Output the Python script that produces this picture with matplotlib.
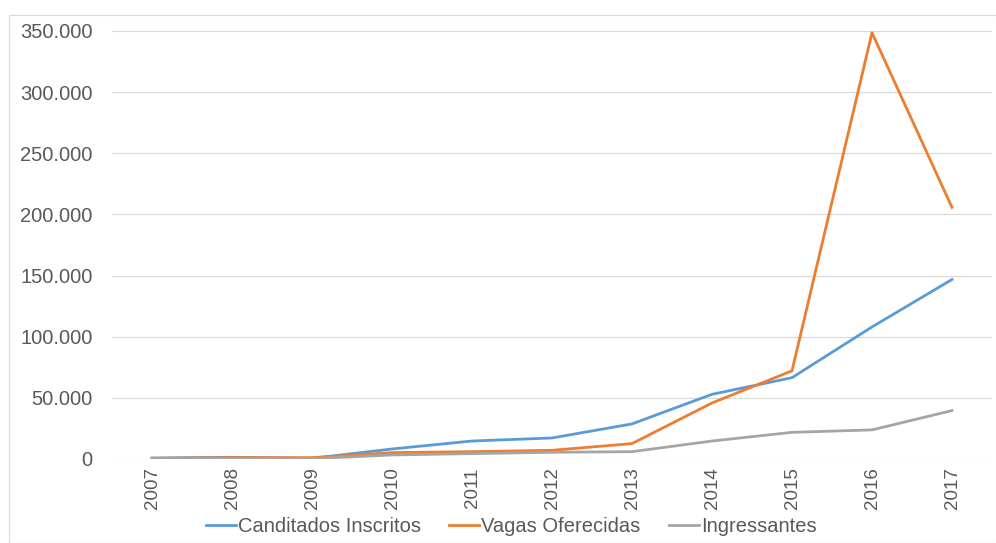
import matplotlib
matplotlib.use('Agg')
import matplotlib.pyplot as plt
from matplotlib.ticker import FuncFormatter
from matplotlib.patches import Rectangle

plt.rcParams['font.family'] = ['Liberation Sans', 'DejaVu Sans']

years = [2007, 2008, 2009, 2010, 2011, 2012, 2013, 2014, 2015, 2016, 2017]
inscritos = [800, 1400, 550, 8200, 14700, 17200, 28700, 52900, 66500, 108000, 146800]
vagas = [550, 1100, 1100, 5200, 6000, 7100, 12600, 45800, 72100, 348600, 205700]
ingressantes = [300, 550, 300, 3300, 4400, 5500, 6000, 14700, 21800, 23800, 39600]

W, H = 996, 543
fig = plt.figure(figsize=(W / 100, H / 100), dpi=100)
ax = fig.add_axes([112 / W, 1 - 459 / H, (992 - 112) / W, (459 - 31) / H])

ax.plot(years, inscritos, color='#5B9BD5', lw=2, label='Canditados Inscritos')
ax.plot(years, vagas, color='#ED7D31', lw=2, label='Vagas Oferecidas')
ax.plot(years, ingressantes, color='#A5A5A5', lw=2, label='Ingressantes')

ax.set_xlim(2006.5, 2017.5)
ax.set_ylim(0, 350000)
ax.set_yticks(range(0, 350001, 50000))
ax.set_xticks(years)
ax.set_xticklabels([str(y) for y in years], rotation=90)
ax.yaxis.set_major_formatter(FuncFormatter(lambda v, p: f'{int(v):,}'.replace(',', '.')))

ax.grid(axis='y', color='#D9D9D9', lw=0.8)
ax.set_axisbelow(True)
for s in ax.spines.values():
    s.set_visible(False)
ax.tick_params(axis='both', length=0, colors='#595959')
ax.tick_params(axis='y', pad=14, labelsize=14.5)
ax.tick_params(axis='x', pad=6, labelsize=13.5)

fig.legend(loc='center', bbox_to_anchor=(511 / W, 1 - 527 / H), ncol=3, frameon=False,
           fontsize=14.5, handlelength=1.5, handletextpad=0.1, columnspacing=1.4,
           labelcolor='#595959')

fig.patches.append(Rectangle((9 / W, 0), 1 - 9 / W, 1 - 15 / H, transform=fig.transFigure,
                             fill=False, edgecolor='#D9D9D9', lw=0.8))

fig.savefig('out.png', dpi=100)
